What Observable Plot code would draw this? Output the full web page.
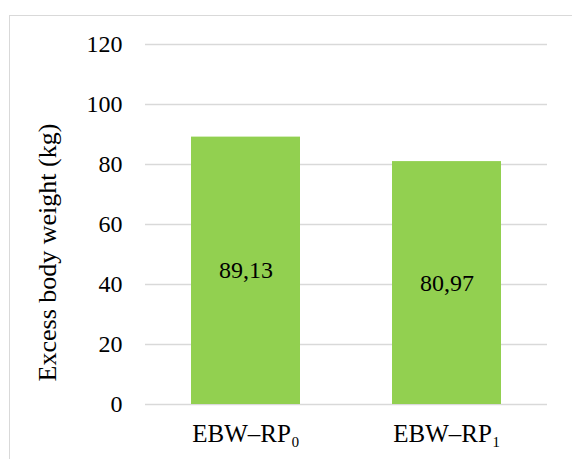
<!DOCTYPE html>
<html>
<head>
<meta charset="utf-8">
<script src="https://cdn.jsdelivr.net/npm/d3@7"></script>
<script src="https://cdn.jsdelivr.net/npm/@observablehq/plot@0.6"></script>
<style>
  html, body { margin: 0; padding: 0; background: #fff; }
  #wrap { position: relative; width: 572px; height: 459px; overflow: hidden; font-family: "Liberation Serif", serif; }
  #frame {
    position: absolute; left: 9px; top: 15px; width: 700px; height: 600px;
    border-left: 1px solid #d9d9d9; border-top: 1px solid #d9d9d9;
    pointer-events: none;
  }
  #chart { position: absolute; left: 0; top: 0; }
</style>
</head>
<body>
<div id="wrap">
  <div id="chart"></div>
  <div id="frame"></div>
</div>
<script>
// Excess body weight per group (kg)
const categories = ["EBW–RP₀", "EBW–RP₁"];
const values = [89.13, 80.97];
const yTicks = [0, 20, 40, 60, 80, 100, 120];
const yTitle = "Excess body weight (kg)";

const serif = "Liberation Serif";
const data = categories.map((c, i) => ({category: c, value: values[i]}));
const fmt = v => v.toFixed(2).replace(".", ",");

const chart = Plot.plot({
  width: 572,
  height: 459,
  marginLeft: 145,
  marginRight: 25,
  marginTop: 44,
  marginBottom: 55,
  style: {background: "transparent", color: "#000"},
  x: {domain: categories, paddingInner: 0.457, paddingOuter: 0.2285},
  y: {domain: [0, 120]},
  marks: [
    Plot.gridY(yTicks, {stroke: "#d9d9d9", strokeOpacity: 1, strokeWidth: 1.3}),
    Plot.barY(data, {x: "category", y: "value", fill: "#92D050"}),
    Plot.text(data, {x: "category", y: d => d.value / 2, text: d => fmt(d.value), fontSize: 24, fill: "#000"}),
    Plot.axisY(yTicks, {tickSize: 0, tickPadding: 23, fontSize: 24, label: yTitle, labelAnchor: "center", labelOffset: 108}),
    Plot.axisX({tickSize: 0, tickPadding: 20, fontSize: 25, label: null})
  ]
});
// Times-like serif on every text element
chart.querySelectorAll("text").forEach(t => {
  t.style.setProperty("font-family", "'Liberation Serif', serif", "important");
});
// plain title (no arrow), nudged down a little along the axis
const lab = chart.querySelector("[aria-label='y-axis label']");
if (lab) {
  lab.querySelectorAll("text").forEach(t => {
    t.textContent = yTitle;
    t.style.fontSize = "26px";
    const tr = t.getAttribute("transform") || "";
    t.setAttribute("transform", tr.replace(/translate\(([^,]+),([^)]+)\)/, (m, a, b) => `translate(${a},${+b + 28})`));
  });
}
document.getElementById("chart").appendChild(chart);
</script>
</body>
</html>
